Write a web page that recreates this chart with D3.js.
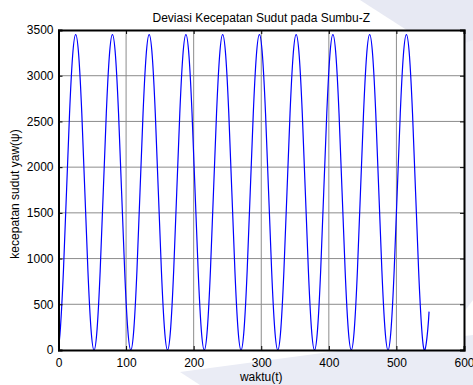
<!DOCTYPE html>
<html>
<head>
<meta charset="utf-8">
<script src="https://cdn.jsdelivr.net/npm/d3@7"></script>
<style>
  body { margin: 0; background: #fff; }
  text { font-family: "Liberation Sans", Arial, sans-serif; }
</style>
</head>
<body>
<div id="wrapper"></div>
<script>
// data (t in s, yaw rate)
const waktu = [
  0, 2.76, 7.29, 11.82, 16.35, 20.89, 25.42, 29.95, 34.48, 39.01, 43.54, 48.07,
  52.6, 57.13, 61.66, 66.2, 70.73, 75.26, 79.79, 84.32, 88.85, 93.38, 97.91,
  102.44, 106.97, 111.51, 116.04, 120.57, 125.1, 129.63, 134.16, 138.69, 143.22, 147.75, 152.28,
  156.82, 161.35, 165.88, 170.41, 174.94, 179.47, 184, 188.53, 193.06, 197.59, 202.13, 206.66,
  211.19, 215.72, 220.25, 224.78, 229.31, 233.84, 238.37, 242.9, 247.44, 251.97, 256.5, 261.03,
  265.56, 270.09, 274.62, 279.15, 283.68, 288.21, 292.75, 297.28, 301.81, 306.34, 310.87, 315.4,
  319.93, 324.46, 328.99, 333.52, 338.06, 342.59, 347.12, 351.65, 356.18, 360.71, 365.24, 369.77,
  374.3, 378.83, 383.37, 387.9, 392.43, 396.96, 401.49, 406.02, 410.55, 415.08, 419.61, 424.14,
  428.68, 433.21, 437.74, 442.27, 446.8, 451.33, 455.86, 460.39, 464.92, 469.45, 473.99, 478.52,
  483.05, 487.58, 492.11, 496.64, 501.17, 505.7, 510.23, 514.76, 519.3, 523.83, 528.36, 532.89,
  537.42, 541.95, 546.48, 548.3
];
const kecepatan = [
  36, 231, 863, 1725, 2588, 3219, 3450, 3219, 2588, 1725, 863, 231,
  0, 231, 863, 1725, 2588, 3219, 3450, 3219, 2588, 1725, 863,
  231, 0, 231, 863, 1725, 2588, 3219, 3450, 3219, 2588, 1725, 863,
  231, 0, 231, 863, 1725, 2588, 3219, 3450, 3219, 2588, 1725, 863,
  231, 0, 231, 863, 1725, 2588, 3219, 3450, 3219, 2588, 1725, 863,
  231, 0, 231, 863, 1725, 2588, 3219, 3450, 3219, 2588, 1725, 863,
  231, 0, 231, 863, 1725, 2588, 3219, 3450, 3219, 2588, 1725, 863,
  231, 0, 231, 863, 1725, 2588, 3219, 3450, 3219, 2588, 1725, 863,
  231, 0, 231, 863, 1725, 2588, 3219, 3450, 3219, 2588, 1725, 863,
  231, 0, 231, 863, 1725, 2588, 3219, 3450, 3219, 2588, 1725, 863,
  231, 0, 231, 420
];
const xTicks = [0, 100, 200, 300, 400, 500, 600];
const yTicks = [0, 500, 1000, 1500, 2000, 2500, 3000, 3500];

const dataset = waktu.map((t, i) => ({ t, v: kecepatan[i] }));

const dimensions = {
  width: 473,
  height: 385,
  margin: { top: 30, right: 9, bottom: 35, left: 58.5 },
};
dimensions.boundedWidth =
  dimensions.width - dimensions.margin.left - dimensions.margin.right;
dimensions.boundedHeight =
  dimensions.height - dimensions.margin.top - dimensions.margin.bottom;

const xScale = d3.scaleLinear().domain([0, 600]).range([0, dimensions.boundedWidth]);
const yScale = d3.scaleLinear().domain([0, 3500]).range([dimensions.boundedHeight, 0]);

const svg = d3
  .select('#wrapper')
  .append('svg')
  .attr('width', dimensions.width)
  .attr('height', dimensions.height);

svg.append('rect').attr('width', dimensions.width).attr('height', dimensions.height).attr('fill', '#fff');

// faint watermark in the background
const wm = svg.append('g').attr('fill', '#e7e9f3');
wm.append('path').attr('d', 'M360,0 L473,0 L473,45 L430,45 Z');
wm.append('path').attr('d', 'M420,60 L473,40 L473,300 L450,330 Z').attr('fill', '#eceef6');
wm.append('path').attr('d', 'M180,372 L330,352 L473,335 L473,385 L200,385 Z').attr('fill', '#eaecf5');

const bounds = svg
  .append('g')
  .attr('transform', `translate(${dimensions.margin.left}, ${dimensions.margin.top})`);

bounds.append('rect')
  .attr('width', dimensions.boundedWidth)
  .attr('height', dimensions.boundedHeight)
  .attr('fill', '#fff');

// grid
bounds.append('g')
  .selectAll('line')
  .data(xTicks.slice(1, -1))
  .join('line')
  .attr('x1', (d) => xScale(d))
  .attr('x2', (d) => xScale(d))
  .attr('y1', 0)
  .attr('y2', dimensions.boundedHeight)
  .attr('stroke', '#8c8c8c')
  .attr('stroke-width', 1);

bounds.append('g')
  .selectAll('line')
  .data(yTicks.slice(1, -1))
  .join('line')
  .attr('x1', 0)
  .attr('x2', dimensions.boundedWidth)
  .attr('y1', (d) => yScale(d))
  .attr('y2', (d) => yScale(d))
  .attr('stroke', '#8c8c8c')
  .attr('stroke-width', 1);

// the line
const line = d3
  .line()
  .x((d) => xScale(d.t))
  .y((d) => yScale(d.v))
  .curve(d3.curveNatural);

bounds.append('path')
  .datum(dataset)
  .attr('d', line)
  .attr('fill', 'none')
  .attr('stroke', '#0000ff')
  .attr('stroke-width', 1.2);

// axes (ticks inside, like matlab)
const xAxis = d3.axisBottom(xScale).tickValues(xTicks).tickSize(-4).tickPadding(8).tickFormat(d3.format('d'));
bounds.append('g')
  .attr('transform', `translate(0, ${dimensions.boundedHeight})`)
  .call(xAxis);
const yAxis = d3.axisLeft(yScale).tickValues(yTicks).tickSize(-4).tickPadding(5).tickFormat(d3.format('d'));
bounds.append('g').call(yAxis);

const xAxisTop = d3.axisTop(xScale).tickValues(xTicks).tickSize(-4).tickFormat('');
bounds.append('g').call(xAxisTop);
const yAxisRight = d3.axisRight(yScale).tickValues(yTicks).tickSize(-4).tickFormat('');
bounds.append('g').attr('transform', `translate(${dimensions.boundedWidth}, 0)`).call(yAxisRight);

bounds.selectAll('.domain').attr('stroke', '#000').attr('stroke-width', 2);
bounds.selectAll('.tick line').attr('stroke', '#000');
bounds.selectAll('.tick text').attr('fill', '#000').style('font-size', '12px');

// labels
svg.append('text')
  .attr('x', dimensions.margin.left + dimensions.boundedWidth / 2)
  .attr('y', 22)
  .attr('text-anchor', 'middle')
  .style('font-size', '12px')
  .text('Deviasi Kecepatan Sudut pada Sumbu-Z');

svg.append('text')
  .attr('x', dimensions.margin.left + dimensions.boundedWidth / 2)
  .attr('y', 381)
  .attr('text-anchor', 'middle')
  .style('font-size', '12px')
  .text('waktu(t)');

svg.append('text')
  .attr('transform', `translate(19, 194) rotate(-90)`)
  .attr('text-anchor', 'middle')
  .style('font-size', '12px')
  .text('kecepatan sudut yaw(ψ)');
</script>
</body>
</html>
